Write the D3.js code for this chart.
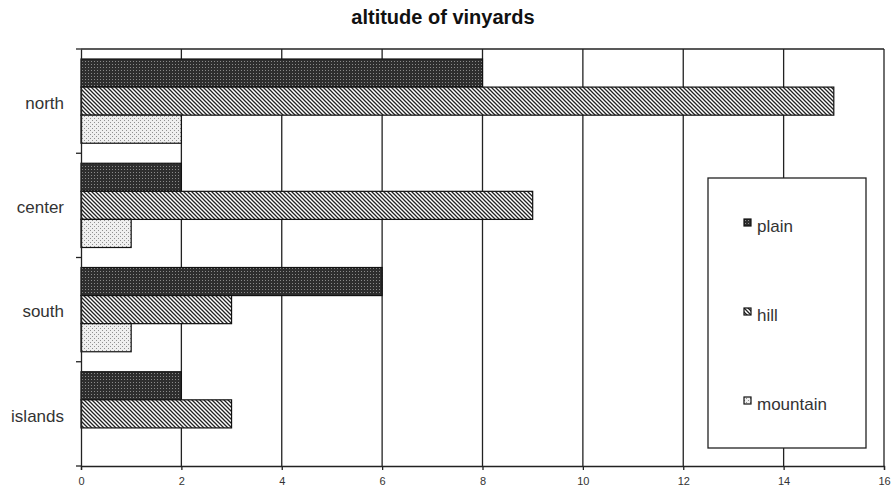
<!DOCTYPE html>
<html><head><meta charset="utf-8">
<script src="https://cdn.jsdelivr.net/npm/d3@7"></script>
<style>html,body{margin:0;padding:0;background:#fff;}svg{display:block;}</style>
</head><body>
<svg id="chart" width="893" height="489"></svg>
<script>
const categories = ["north", "center", "south", "islands"];
const seriesNames = ["plain", "hill", "mountain"];
const plainValues = [8, 2, 6, 2];
const hillValues = [15, 9, 3, 3];
const mountainValues = [2, 1, 1, 0];
const xTicks = [0, 2, 4, 6, 8, 10, 12, 14, 16];
const titleText = "altitude of vinyards";

const seriesValues = {plain: plainValues, hill: hillValues, mountain: mountainValues};

const svg = d3.select("#chart");
const m = {left: 81, right: 884, top: 49, bottom: 466};

const defs = svg.append("defs");
const p1 = defs.append("pattern").attr("id", "pat-plain").attr("patternUnits", "userSpaceOnUse").attr("width", 3).attr("height", 3);
p1.append("rect").attr("width", 3).attr("height", 3).attr("fill", "#2e2e2e");
p1.append("rect").attr("x", 1).attr("y", 1).attr("width", 1).attr("height", 1).attr("fill", "#8a8a8a");
const p2 = defs.append("pattern").attr("id", "pat-hill").attr("patternUnits", "userSpaceOnUse").attr("width", 4).attr("height", 4);
p2.append("rect").attr("width", 4).attr("height", 4).attr("fill", "#fff");
p2.append("path").attr("d", "M-1,-1 L5,5 M-1,3 L1,5 M3,-1 L5,1").attr("stroke", "#222").attr("stroke-width", 1.3);
const p3 = defs.append("pattern").attr("id", "pat-mountain").attr("patternUnits", "userSpaceOnUse").attr("width", 4).attr("height", 4);
p3.append("rect").attr("width", 4).attr("height", 4).attr("fill", "#efefef");
p3.append("rect").attr("x", 0).attr("y", 0).attr("width", 1).attr("height", 1).attr("fill", "#909090");
p3.append("rect").attr("x", 2).attr("y", 2).attr("width", 1).attr("height", 1).attr("fill", "#909090");

const fills = {plain: "url(#pat-plain)", hill: "url(#pat-hill)", mountain: "url(#pat-mountain)"};

const x = d3.scaleLinear().domain([0, 16]).range([m.left, m.right]);
const y = d3.scaleBand().domain(categories).range([m.top, m.bottom]).padding(0);
const bandH = y.bandwidth();
const ySub = d3.scaleBand().domain(seriesNames).range([10, bandH - 10]).padding(0);

svg.append("text").attr("x", 443).attr("y", 24).attr("text-anchor", "middle")
  .attr("font-family", "Liberation Sans, Arial, sans-serif").attr("font-weight", "bold")
  .attr("font-size", 20).attr("fill", "#111").text(titleText);

svg.append("line").attr("x1", m.left).attr("x2", m.right).attr("y1", m.top).attr("y2", m.top)
  .attr("stroke", "#222").attr("stroke-width", 1.3);

svg.append("g").selectAll("line").data(xTicks.filter(d => d > 0)).join("line")
  .attr("x1", d => x(d)).attr("x2", d => x(d)).attr("y1", m.top).attr("y2", m.bottom)
  .attr("stroke", "#222").attr("stroke-width", 1.3);

const rows = [];
categories.forEach((c, i) => seriesNames.forEach(s => rows.push({c, s, v: seriesValues[s][i]})));
svg.append("g").selectAll("rect").data(rows.filter(d => d.v > 0)).join("rect")
  .attr("x", x(0)).attr("y", d => y(d.c) + ySub(d.s))
  .attr("width", d => x(d.v) - x(0)).attr("height", ySub.bandwidth())
  .attr("fill", d => fills[d.s]).attr("stroke", "#111").attr("stroke-width", 1.2);

const xAxis = svg.append("g").attr("transform", `translate(0,${m.bottom})`)
  .call(d3.axisBottom(x).tickValues(xTicks).tickSize(4).tickPadding(7).tickFormat(d3.format("d")));
xAxis.select(".domain").attr("stroke", "#222").attr("stroke-width", 1.3);
xAxis.selectAll(".tick line").attr("stroke", "#222").attr("stroke-width", 1.3);
xAxis.selectAll("text").attr("font-family", "Liberation Sans, Arial, sans-serif").attr("font-size", 11).attr("fill", "#333");

const yAxis = svg.append("g").attr("transform", `translate(${m.left},0)`)
  .call(d3.axisLeft(y).tickSize(0).tickPadding(17));
yAxis.select(".domain").attr("stroke", "#222").attr("stroke-width", 1.3);
yAxis.selectAll("text").attr("font-family", "Liberation Sans, Arial, sans-serif").attr("font-size", 17).attr("fill", "#333").attr("dy", "0.45em");
const bounds = categories.map(c => y(c)).concat([m.bottom]);
svg.append("g").selectAll("line").data(bounds).join("line")
  .attr("x1", m.left - 5).attr("x2", m.left).attr("y1", d => d).attr("y2", d => d)
  .attr("stroke", "#222").attr("stroke-width", 1.3);

const lg = svg.append("g");
lg.append("rect").attr("x", 708).attr("y", 178).attr("width", 158).attr("height", 270)
  .attr("fill", "#fff").attr("stroke", "#222").attr("stroke-width", 1.3);
const legY = d3.scalePoint().domain(seriesNames).range([226, 404]);
const items = lg.selectAll("g.item").data(seriesNames).join("g").attr("class", "item");
items.append("rect").attr("x", 744).attr("y", d => legY(d) - 7).attr("width", 7).attr("height", 7)
  .attr("fill", d => fills[d]).attr("stroke", "#111").attr("stroke-width", 1.2);
items.append("text").attr("x", 757).attr("y", d => legY(d) + 6)
  .attr("font-family", "Liberation Sans, Arial, sans-serif").attr("font-size", 17).attr("fill", "#333").text(d => d);
</script>
</body></html>
